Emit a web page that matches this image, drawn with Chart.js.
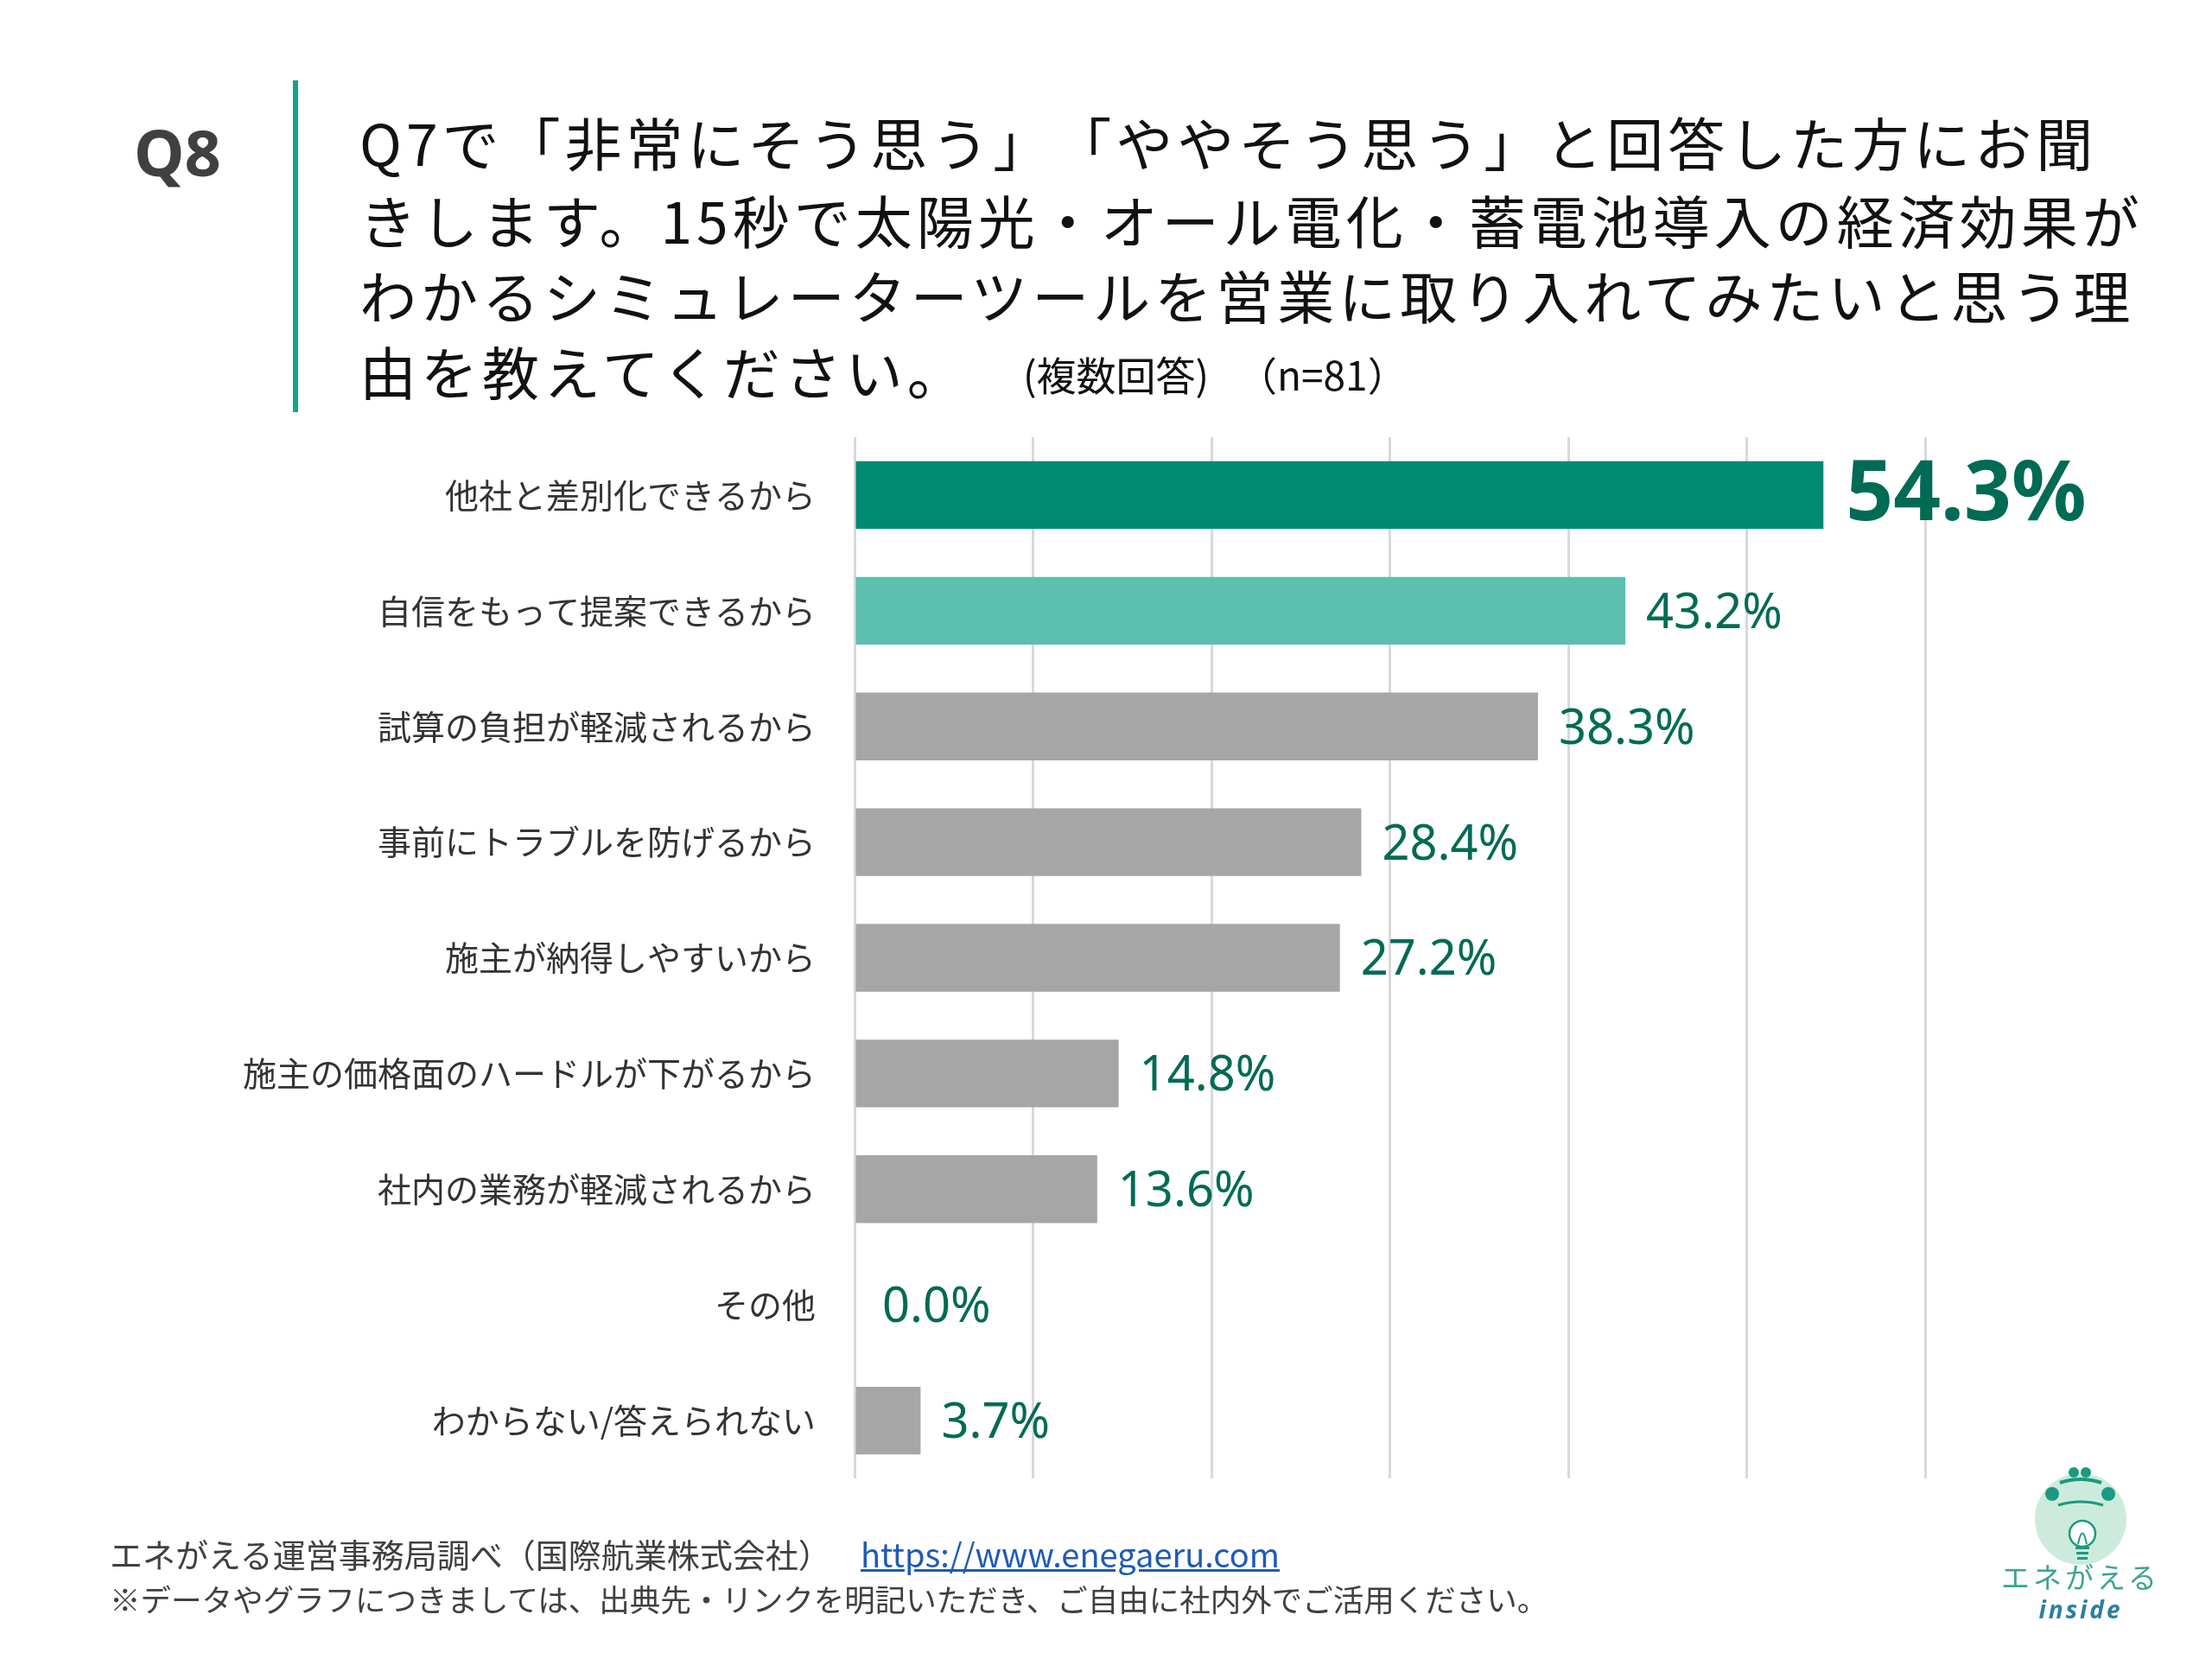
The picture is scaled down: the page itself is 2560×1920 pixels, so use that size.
<!DOCTYPE html>
<html lang="ja">
<head>
<meta charset="utf-8">
<title>Q8 シミュレーターツール導入理由</title>
<script src="https://cdn.jsdelivr.net/npm/chart.js@4.4.1/dist/chart.umd.min.js"></script>
<style>
  html, body { margin: 0; padding: 0; background: #fff; }
  body { width: 2560px; height: 1920px; position: relative; overflow: hidden;
         font-family: "Noto Sans CJK JP", "Noto Sans", sans-serif; text-spacing-trim: space-all; }
  .abs { position: absolute; white-space: nowrap; }
  #q { left: 155px; top: 131px; line-height: 90px; font-size: 74px; font-weight: bold;
       color: #404040; font-family: "Noto Sans", "Noto Sans CJK JP", sans-serif; }
  #bar { left: 339px; top: 93px; width: 6px; height: 384px; background: #14A38C; }
  .tl { left: 416px; line-height: 88px; font-size: 66px; letter-spacing: 5px; color: #111; }
  .sub { line-height: 60px; font-size: 46px; color: #111; }
  .foot { left: 127px; color: #404040; }
  #link { left: 996px; top: 1774px; line-height: 48px; font-size: 38px; color: #1F5BB5;
          text-decoration: underline; }
  #chartBox { position: absolute; left: 0; top: 0; }
</style>
</head>
<body>
<div id="chartBox"><canvas id="myChart" width="2560" height="1920"></canvas></div>

<div class="abs" id="q">Q8</div>
<div class="abs" id="bar"></div>
<div class="abs tl" style="top:119px">Q7で「非常にそう思う」「ややそう思う」と回答した方にお聞</div>
<div class="abs tl" style="top:209px">きします。15秒で太陽光・オール電化・蓄電池導入の経済効果が</div>
<div class="abs tl" style="top:296px">わかるシミュレーターツールを営業に取り入れてみたいと思う理</div>
<div class="abs tl" style="top:384px">由を教えてください。</div>
<div class="abs sub" style="left:1184px; top:402px">(複数回答)</div>
<div class="abs sub" style="left:1432px; top:402px">（n=81）</div>

<div class="abs foot" style="top:1774px; line-height:48px; font-size:38px">エネがえる運営事務局調べ（国際航業株式会社）</div>
<div class="abs" id="link">https://www.enegaeru.com</div>
<div class="abs foot" style="top:1827px; line-height:46px; font-size:35.5px">※データやグラフにつきましては、出典先・リンクを明記いただき、ご自由に社内外でご活用ください。</div>

<!-- ロゴ -->
<svg class="abs" style="left:2300px; top:1690px" width="220" height="200" viewBox="0 0 220 200">
  <circle cx="108" cy="68" r="53" fill="#CDEBDD"/>
  <circle cx="100" cy="14" r="6" fill="#1A9A80"/>
  <circle cx="114" cy="14" r="6" fill="#1A9A80"/>
  <path d="M84 26 Q108 18 132 26" stroke="#1A9A80" stroke-width="4" fill="none"/>
  <circle cx="75" cy="39" r="8" fill="#1A9A80"/>
  <circle cx="140" cy="39" r="8" fill="#1A9A80"/>
  <path d="M82 52 Q108 44 134 52" stroke="#1A9A80" stroke-width="3" fill="none"/>
  <circle cx="110" cy="85" r="15" fill="#fff" stroke="#1A9A80" stroke-width="2.5"/>
  <path d="M105 97 Q110 72 115 97" stroke="#1A9A80" stroke-width="2" fill="none"/>
  <rect x="102" y="100" width="16" height="3" fill="#1A9A80"/>
  <rect x="103" y="106" width="14" height="3" fill="#1A9A80"/>
  <rect x="104" y="112" width="12" height="3" fill="#1A9A80"/>
  <text x="108" y="148" text-anchor="middle" font-size="33" letter-spacing="4" fill="#3BA58F"
        font-family="Noto Sans CJK JP">エネがえる</text>
  <text x="108" y="183" text-anchor="middle" font-size="28" font-weight="bold" font-style="italic"
        letter-spacing="3" fill="#2E7FA0" font-family="Noto Sans">inside</text>
</svg>

<script>
// データ
let categories = [
  "他社と差別化できるから",
  "自信をもって提案できるから",
  "試算の負担が軽減されるから",
  "事前にトラブルを防げるから",
  "施主が納得しやすいから",
  "施主の価格面のハードルが下がるから",
  "社内の業務が軽減されるから",
  "その他",
  "わからない/答えられない",
];
let percents = [54.3, 43.2, 38.3, 28.4, 27.2, 14.8, 13.6, 0.0, 3.7];
let xTicks = [0, 10, 20, 30, 40, 50, 60];

let barColors = percents.map(function (v, i) {
  if (i == 0) return "#008A74";
  if (i == 1) return "#5CBFB0";
  return "#A6A6A6";
});

// バーの右に値を描く
let valueLabels = {
  id: "valueLabels",
  afterDatasetsDraw: function (chart) {
    let ctx = chart.ctx;
    let bars = chart.getDatasetMeta(0).data;
    ctx.save();
    ctx.fillStyle = "#006B55";
    ctx.textBaseline = "middle";
    ctx.textAlign = "left";
    bars.forEach(function (bar, i) {
      let txt = percents[i].toFixed(1) + "%";
      if (i == 0) {
        ctx.font = "bold 96px 'Noto Sans', sans-serif";
        ctx.fillText(txt, bar.x + 26, bar.y + 2);
      } else {
        ctx.font = "56px 'Noto Sans', sans-serif";
        let off = percents[i] == 0 ? 32 : 24;
        ctx.fillText(txt, bar.x + off, bar.y + 4);
      }
    });
    ctx.restore();
  },
};

new Chart("myChart", {
  type: "bar",
  data: {
    labels: categories,
    datasets: [
      {
        data: percents,
        backgroundColor: barColors,
        borderWidth: 0,
        categoryPercentage: 1,
        barPercentage: 0.585,
      },
    ],
  },
  options: {
    indexAxis: "y",
    responsive: false,
    animation: false,
    layout: { padding: { top: 506, bottom: 209, right: 332, left: 0 } },
    plugins: {
      legend: { display: false },
      tooltip: { enabled: false },
      title: { display: false },
    },
    scales: {
      x: {
        min: xTicks[0],
        max: xTicks[xTicks.length - 1],
        afterBuildTicks: function (scale) {
          scale.ticks = xTicks.map(function (v) { return { value: v }; });
        },
        afterFit: function (scale) { scale.height = 0; },
        ticks: { display: false },
        border: { display: false },
        grid: { color: "#D9D9D9", lineWidth: 3, drawTicks: false },
      },
      y: {
        afterFit: function (scale) { scale.width = 989; },
        grid: { display: false, drawTicks: false },
        border: { display: false },
        ticks: {
          autoSkip: false,
          padding: 45,
          color: "#333333",
          font: { family: "'Noto Sans CJK JP', sans-serif", size: 39 },
        },
      },
    },
  },
  plugins: [valueLabels],
});
</script>
</body>
</html>
